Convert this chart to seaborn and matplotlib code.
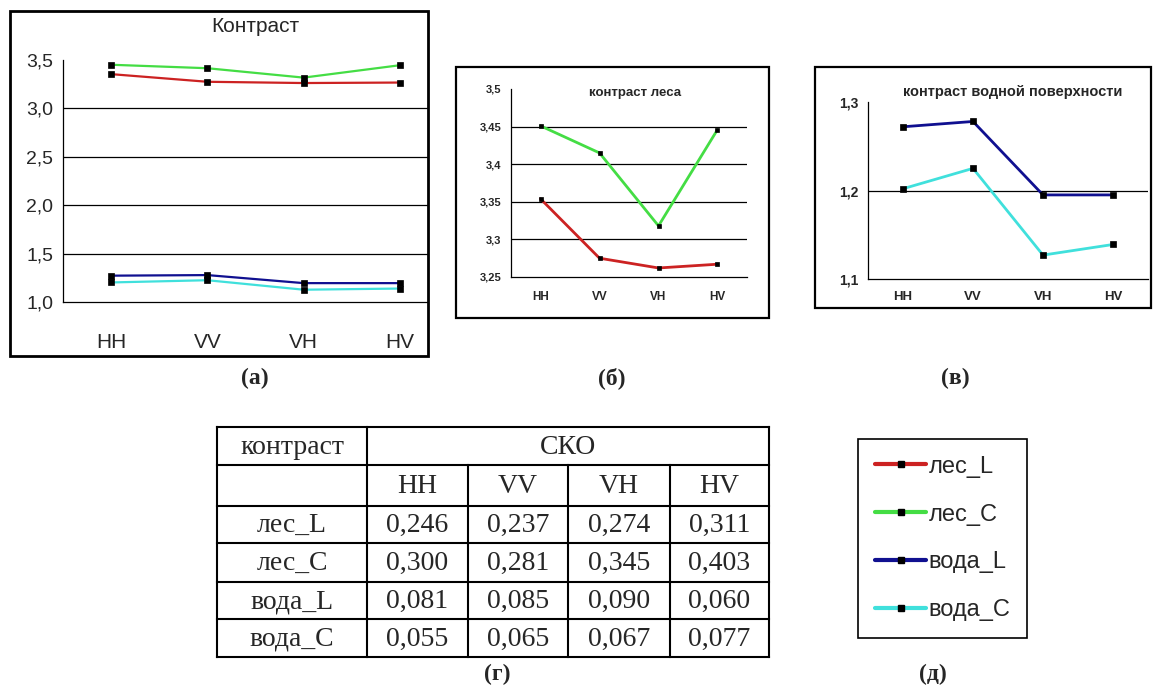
import numpy as np
import pandas as pd
import seaborn as sns
import matplotlib.pyplot as plt
from matplotlib.lines import Line2D
from matplotlib.patches import Rectangle

# data
pols = ["HH", "VV", "VH", "HV"]
series = ["лес_L", "лес_C", "вода_L", "вода_C"]
les_L = [3.354, 3.275, 3.262, 3.267]
les_C = [3.451, 3.415, 3.318, 3.446]
voda_L = [1.272, 1.278, 1.195, 1.195]
voda_C = [1.202, 1.225, 1.127, 1.139]

# table of std. deviations (СКО)
sko_les_L = [0.246, 0.237, 0.274, 0.311]
sko_les_C = [0.300, 0.281, 0.345, 0.403]
sko_voda_L = [0.081, 0.085, 0.090, 0.060]
sko_voda_C = [0.055, 0.065, 0.067, 0.077]

colors = ["#cc2222", "#44dd44", "#101090", "#40e0dc"]
palette = dict(zip(series, colors))

df = pd.DataFrame({
    "pol": pols * 4,
    "series": np.repeat(series, 4),
    "value": les_L + les_C + voda_L + voda_C,
})
df["x"] = df["pol"].map({p: i + 0.5 for i, p in enumerate(pols)})

W, H = 1153, 693
sns.set_style("white")
plt.rcParams["font.family"] = ["Liberation Sans", "DejaVu Sans"]

fig = plt.figure(figsize=(W / 100, H / 100), dpi=100)


def px_rect(x0, y0, x1, y1):
    return [x0 / W, 1 - y1 / H, (x1 - x0) / W, (y1 - y0) / H]


def box(x0, y0, x1, y1, lw=1.6):
    fig.add_artist(Rectangle((x0 / W, 1 - y1 / H), (x1 - x0) / W, (y1 - y0) / H,
                             transform=fig.transFigure, fill=False,
                             lw=lw, ec="black"))


def panel(rect, names, ylim, yticks, fmt, xmax, lw, ms, yfs, xfs, bold, xpad, ypad):
    ax = fig.add_axes(px_rect(*rect))
    sub = df[df["series"].isin(names)]
    sns.lineplot(data=sub, x="x", y="value", hue="series", hue_order=names,
                 palette=palette, marker="s", markersize=ms,
                 markerfacecolor="black", markeredgecolor="black",
                 markeredgewidth=0.5, linewidth=lw, errorbar=None,
                 legend=False, ax=ax, zorder=3)
    for v in yticks[1:-1]:
        ax.axhline(v, color="black", lw=0.9, zorder=1)
    ax.set_ylim(*ylim)
    ax.set_yticks(yticks)
    ax.set_yticklabels([fmt(v) for v in yticks], fontsize=yfs,
                       fontweight="bold" if bold else "normal")
    ax.set_xticks(np.arange(0, 5))
    ax.set_xticklabels([])
    ax.set_xticks(np.arange(4) + 0.5, minor=True)
    ax.set_xticklabels(pols, minor=True, fontsize=xfs,
                       fontweight="bold" if bold else "normal")
    ax.set_xlim(0, xmax)
    ax.tick_params(axis="x", which="major", direction="out", length=4, width=0.9)
    ax.tick_params(axis="x", which="minor", length=0, pad=xpad)
    ax.tick_params(axis="y", direction="out", length=4, width=0.9, pad=ypad)
    ax.set_xlabel("")
    ax.set_ylabel("")
    sns.despine(ax=ax)
    for s in ["left", "bottom"]:
        ax.spines[s].set_color("black")
        ax.spines[s].set_linewidth(0.9)
    ax.patch.set_alpha(0)
    return ax


# (а) all four series
box(10, 11, 428, 356, lw=2)
panel((63, 60, 428, 302), series, (1.0, 3.5), [1.0, 1.5, 2.0, 2.5, 3.0, 3.5],
      lambda v: f"{v:.1f}".replace(".", ","), 365 / 96.25, 1.6, 4.5, 14, 15,
      False, 22, 3)
fig.text(255 / W, 1 - 26 / H, "Контраст", ha="center", va="center", fontsize=15)

# (б) forest contrast
box(456, 67, 769, 318, lw=1.6)
panel((511, 89, 747, 277), series[:2], (3.25, 3.5),
      [3.25, 3.3, 3.35, 3.4, 3.45, 3.5],
      lambda v: f"{v:g}".replace(".", ","), 4, 2.0, 3.5, 8, 8.5, True, 10, 3)
fig.text(635 / W, 1 - 93 / H, "контраст леса", ha="center", va="center",
         fontsize=9.5, fontweight="bold")

# (в) water contrast
box(815, 67, 1151, 308, lw=1.6)
panel((868, 102, 1148, 279), series[2:], (1.1, 1.3), [1.1, 1.2, 1.3],
      lambda v: f"{v:g}".replace(".", ","), 4, 2.0, 4, 10, 9.5, True, 9, 3)
fig.text(1013 / W, 1 - 92 / H, "контраст водной поверхности", ha="center",
         va="center", fontsize=10.5, fontweight="bold")

# panel captions
serif = ["Liberation Serif", "DejaVu Serif"]
for x, y, s in [(255, 378, "(а)"), (612, 378, "(б)"), (955, 378, "(в)"),
                (497, 674, "(г)"), (933, 674, "(д)")]:
    fig.text(x / W, 1 - y / H, s, ha="center", va="center", fontsize=17,
             fontweight="bold", family=serif)

# (г) table
col_edges = [217, 367, 468, 568, 670, 769]
row_edges = [427, 465, 506, 543, 582, 619, 657]
tax = fig.add_axes([0, 0, 1, 1])
tax.set_xlim(0, W)
tax.set_ylim(H, 0)
tax.axis("off")
tlw = 1.5
for y in row_edges:
    tax.plot([col_edges[0], col_edges[-1]], [y, y], color="black", lw=tlw,
             solid_capstyle="projecting")
for i, x in enumerate(col_edges):
    top = row_edges[1] if 1 < i < len(col_edges) - 1 else row_edges[0]
    tax.plot([x, x], [top, row_edges[-1]], color="black", lw=tlw,
             solid_capstyle="projecting")


def cell_text(ci0, ci1, ri, s):
    xc = (col_edges[ci0] + col_edges[ci1]) / 2
    yc = (row_edges[ri] + row_edges[ri + 1]) / 2
    tax.text(xc, yc + 1, s, ha="center", va="center", fontsize=20, family=serif)


cell_text(0, 1, 0, "контраст")
cell_text(1, 5, 0, "СКО")
for j, p in enumerate(pols):
    cell_text(j + 1, j + 2, 1, p)
for i, (name, vals) in enumerate(zip(series, [sko_les_L, sko_les_C,
                                               sko_voda_L, sko_voda_C])):
    cell_text(0, 1, i + 2, name)
    for j, v in enumerate(vals):
        cell_text(j + 1, j + 2, i + 2, f"{v:.3f}".replace(".", ","))

# (д) legend
handles = [Line2D([], [], color=c, lw=3, marker="s", ms=5, mfc="black",
                  mec="black") for c in colors]
leg = fig.legend(handles, series, loc="upper left",
                 bbox_to_anchor=(858 / W, 1 - 439 / H), frameon=True,
                 fancybox=False, edgecolor="black", framealpha=1,
                 fontsize=17, handlelength=2.2, handletextpad=0.1,
                 labelspacing=1.1, borderpad=0.7, borderaxespad=0)
leg.get_frame().set_linewidth(1.2)

fig.savefig("out.png", dpi=100)
